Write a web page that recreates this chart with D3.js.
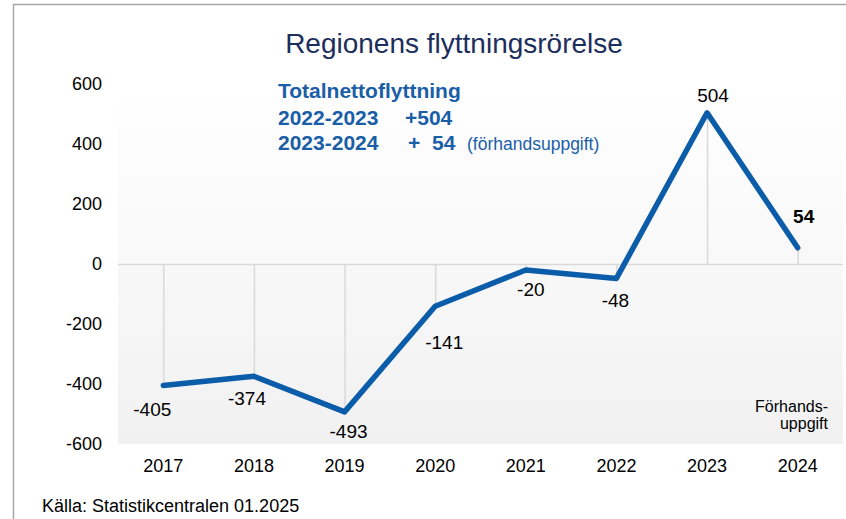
<!DOCTYPE html>
<html>
<head>
<meta charset="utf-8">
<script src="https://cdn.jsdelivr.net/npm/d3@7"></script>
<style>
body { margin: 0; background: #fff; }
svg { display: block; font-family: "Liberation Sans", Arial, sans-serif; }
</style>
</head>
<body>
<script>
var years = ["2017", "2018", "2019", "2020", "2021", "2022", "2023", "2024"];
var values = [-405, -374, -493, -141, -20, -48, 504, 54];
var yTicks = [600, 400, 200, 0, -200, -400, -600];

var width = 846, height = 519;
var plotLeft = 118, plotRight = 843, plotTop = 84, plotBottom = 444;
var lineColor = "#0b5ca9";
var blueText = "#1a5ea8";

// label offsets relative to the point (dx, dy to baseline)
var labelOffsets = [[-11, 30], [-7, 29], [4, 26], [9, 43], [5, 26], [-1, 29], [6, -11], [6, -25]];

var svg = d3.select("body").append("svg")
	.attr("width", width)
	.attr("height", height);

var defs = svg.append("defs");
var grad = defs.append("linearGradient")
	.attr("id", "bg")
	.attr("x1", 0).attr("y1", 0).attr("x2", 0).attr("y2", 1);
grad.append("stop").attr("offset", "0%").attr("stop-color", "#ffffff");
grad.append("stop").attr("offset", "100%").attr("stop-color", "#f1f1f1");

// outer frame
svg.append("rect")
	.attr("x", 13.5).attr("y", 4.5)
	.attr("width", 900).attr("height", 600)
	.attr("fill", "#fff")
	.attr("stroke", "#a6a6a6")
	.attr("stroke-width", 1.5);

svg.append("rect")
	.attr("x", plotLeft).attr("y", plotTop)
	.attr("width", plotRight - plotLeft).attr("height", plotBottom - plotTop)
	.attr("fill", "url(#bg)");

var x = d3.scaleBand().domain(years).range([plotLeft, plotRight]);
var y = d3.scaleLinear().domain([-600, 600]).range([plotBottom, plotTop]);
var cx = d => x(d) + x.bandwidth() / 2;

// drop lines
svg.append("g").selectAll("line")
	.data(values)
	.enter().append("line")
	.attr("x1", (d, i) => cx(years[i]) + 0.5)
	.attr("x2", (d, i) => cx(years[i]) + 0.5)
	.attr("y1", y(0))
	.attr("y2", d => y(d))
	.attr("stroke", "#d9d9d9")
	.attr("stroke-width", 1.5);

// zero line
svg.append("line")
	.attr("x1", plotLeft).attr("x2", plotRight)
	.attr("y1", y(0) + 0.5).attr("y2", y(0) + 0.5)
	.attr("stroke", "#d9d9d9")
	.attr("stroke-width", 1.5);

// y axis
var yAxis = svg.append("g")
	.attr("transform", "translate(" + (plotLeft - 16) + ",0)")
	.call(d3.axisLeft(y).tickValues(yTicks).tickFormat(d => String(d)).tickSize(0).tickPadding(0));
yAxis.select(".domain").remove();
yAxis.selectAll("text").attr("font-size", 18).attr("fill", "#000").attr("font-family", "Liberation Sans, Arial, sans-serif");

// x axis
var xAxis = svg.append("g")
	.attr("transform", "translate(0," + plotBottom + ")")
	.call(d3.axisBottom(x).tickSize(0).tickPadding(15));
xAxis.select(".domain").remove();
xAxis.selectAll("text").attr("font-size", 18).attr("fill", "#000").attr("font-family", "Liberation Sans, Arial, sans-serif");

// line
var line = d3.line()
	.x((d, i) => cx(years[i]))
	.y(d => y(d));
svg.append("path")
	.datum(values)
	.attr("d", line)
	.attr("fill", "none")
	.attr("stroke", lineColor)
	.attr("stroke-width", 5.5)
	.attr("stroke-linejoin", "round")
	.attr("stroke-linecap", "round");

// data labels
svg.append("g").selectAll("text")
	.data(values)
	.enter().append("text")
	.attr("x", (d, i) => cx(years[i]) + labelOffsets[i][0])
	.attr("y", (d, i) => y(d) + labelOffsets[i][1])
	.attr("text-anchor", "middle")
	.attr("font-size", 19)
	.attr("font-weight", (d, i) => i == values.length - 1 ? "bold" : "normal")
	.attr("fill", "#000")
	.text(d => d);

// title
svg.append("text")
	.attr("x", 454).attr("y", 53)
	.attr("text-anchor", "middle")
	.attr("font-size", 28)
	.attr("fill", "#1c2e5c")
	.text("Regionens flyttningsrörelse");

// annotation
var ann = svg.append("g").attr("fill", blueText).attr("font-weight", "bold").attr("font-size", 21);
ann.append("text").attr("x", 278).attr("y", 98).text("Totalnettoflyttning");
ann.append("text").attr("x", 278).attr("y", 125).text("2022-2023");
ann.append("text").attr("x", 405).attr("y", 125).text("+504");
ann.append("text").attr("x", 278).attr("y", 150).text("2023-2024");
ann.append("text").attr("x", 408).attr("y", 150).text("+");
ann.append("text").attr("x", 432).attr("y", 150).text("54");
ann.append("text").attr("x", 467).attr("y", 150)
	.attr("font-weight", "normal").attr("font-size", 17.5)
	.text("(förhandsuppgift)");

// preliminary note
var note = svg.append("g").attr("font-size", 16).attr("fill", "#000").attr("text-anchor", "end");
note.append("text").attr("x", 828).attr("y", 412).text("Förhands-");
note.append("text").attr("x", 828).attr("y", 429).text("uppgift");

// source
svg.append("text")
	.attr("x", 42).attr("y", 512)
	.attr("font-size", 18)
	.attr("fill", "#000")
	.text("Källa: Statistikcentralen 01.2025");
</script>
</body>
</html>
